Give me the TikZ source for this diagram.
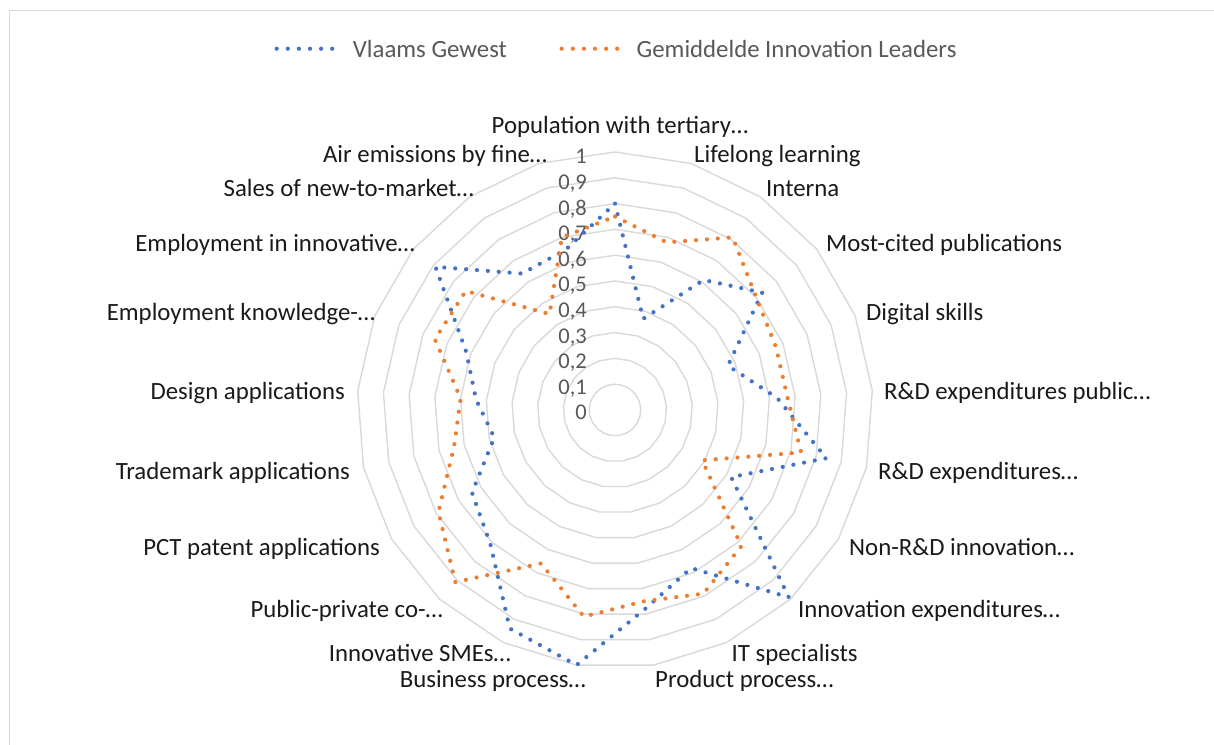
\documentclass[tikz,border=0pt]{standalone}
\usepackage{fontspec}
\setmainfont{Carlito}
\definecolor{gridgray}{HTML}{D9D9D9}
\definecolor{framegray}{HTML}{D9D9D9}
\definecolor{ticktext}{HTML}{595959}
\definecolor{labeltext}{HTML}{1A1A1A}
\definecolor{seriesblue}{HTML}{4472C4}
\definecolor{seriesorange}{HTML}{ED7D31}
\tikzset{
  gridring/.style={draw=gridgray, line width=1.4bp},
  dotline/.style={line width=4.2bp, line cap=round, dash pattern=on 0bp off 10.9bp},
  legdots/.style={line width=4.2bp, line cap=round, dash pattern=on 0bp off 11.1bp},
  catlabel/.style={inner sep=0pt, text=labeltext, font=\fontsize{24.8bp}{29bp}\selectfont},
  ticklabel/.style={inner sep=0pt, anchor=base east, text=ticktext, font=\fontsize{22.5bp}{27bp}\selectfont},
  legtext/.style={inner sep=0pt, anchor=base west, text=ticktext, font=\fontsize{24.8bp}{29bp}\selectfont}
}
\begin{document}
\begin{tikzpicture}[x=1bp,y=-1bp]
\useasboundingbox (0,0) rectangle (1214,745);
\fill[white] (0,0) rectangle (1214,745);
\draw[framegray, line width=1.2bp] (9.5,745) -- (9.5,10.5) -- (1214,10.5);
% grid rings
\foreach \k in {1,...,10} {
  \draw[gridring] plot[samples=22, domain=0:360, variable=\a]
    ({615+25.8*\k*sin(\a)}, {410-25.8*\k*cos(\a)}) -- cycle;
}
% tick labels
\foreach \k/\t in {0/0,1/{0,1},2/{0,2},3/{0,3},4/{0,4},5/{0,5},6/{0,6},7/{0,7},8/{0,8},9/{0,9},10/1} {
  \node[ticklabel] (tick\k) at (587, {410-25.6*\k+9.8}) {\t};
}
% series vertices
\foreach \v [count=\i from 0] in {0.80,0.37,0.61,0.73,0.47,0.63,0.84,0.52,0.99,0.68,0.78,1.00,0.94,0.71,0.64,0.48,0.54,0.62,0.89,0.64,0.65} {
  \coordinate (b\i) at ({615+258*\v*sin(\i*360/21)}, {410-258*\v*cos(\i*360/21)});
}
\foreach \v [count=\i from 0] in {0.75,0.68,0.81,0.70,0.67,0.67,0.74,0.39,0.72,0.79,0.75,0.81,0.66,0.91,0.79,0.64,0.60,0.75,0.74,0.45,0.70} {
  \coordinate (o\i) at ({615+258*\v*sin(\i*360/21)}, {410-258*\v*cos(\i*360/21)});
}
\draw[dotline, seriesblue] (b0) \foreach \i in {1,...,20} {-- (b\i)} -- cycle;
\draw[dotline, seriesorange] (o0) \foreach \i in {1,...,20} {-- (o\i)} -- cycle;
% category labels
\node[catlabel, anchor=base] (c0) at (620,133.3) {Population with tertiary…};
\node[catlabel, anchor=base west] (c1) at (694,162) {Lifelong learning};
\node[catlabel, anchor=base west] (c2) at (766,196.5) {Interna};
\node[catlabel, anchor=base west] (c3) at (826,251.7) {Most-cited publications};
\node[catlabel, anchor=base west] (c4) at (866,320) {Digital skills};
\node[catlabel, anchor=base west] (c5) at (884,399) {R\&D expenditures public…};
\node[catlabel, anchor=base west] (c6) at (878,479) {R\&D expenditures…};
\node[catlabel, anchor=base west] (c7) at (849,555) {Non-R\&D innovation…};
\node[catlabel, anchor=base west] (c8) at (798,617) {Innovation expenditures…};
\node[catlabel, anchor=base west] (c9) at (731.5,661) {IT specialists};
\node[catlabel, anchor=base west] (c10) at (655,687.5) {Product process…};
\node[catlabel, anchor=base east] (c11) at (586,687.5) {Business process…};
\node[catlabel, anchor=base east] (c12) at (511,661) {Innovative SMEs…};
\node[catlabel, anchor=base east] (c13) at (443,617) {Public-private co-…};
\node[catlabel, anchor=base east] (c14) at (380,555) {PCT patent applications};
\node[catlabel, anchor=base east] (c15) at (350,479) {Trademark applications};
\node[catlabel, anchor=base east] (c16) at (345,399) {Design applications};
\node[catlabel, anchor=base east] (c17) at (375.3,320) {Employment knowledge-…};
\node[catlabel, anchor=base east] (c18) at (415,251.7) {Employment in innovative…};
\node[catlabel, anchor=base east] (c19) at (474,196.5) {Sales of new-to-market…};
\node[catlabel, anchor=base east] (c20) at (547.3,162) {Air emissions by fine…};
% legend
\coordinate (lb1) at (276.7,48.7);
\coordinate (lb2) at (343.3,48.7);
\coordinate (lo1) at (561.7,48.7);
\coordinate (lo2) at (628.3,48.7);
\draw[legdots, seriesblue] (lb1) -- (lb2);
\draw[legdots, seriesorange] (lo1) -- (lo2);
\node[legtext] (leg1) at (352.7,57.3) {Vlaams Gewest};
\node[legtext] (leg2) at (636.5,57.3) {Gemiddelde Innovation Leaders};
\end{tikzpicture}
\end{document}
